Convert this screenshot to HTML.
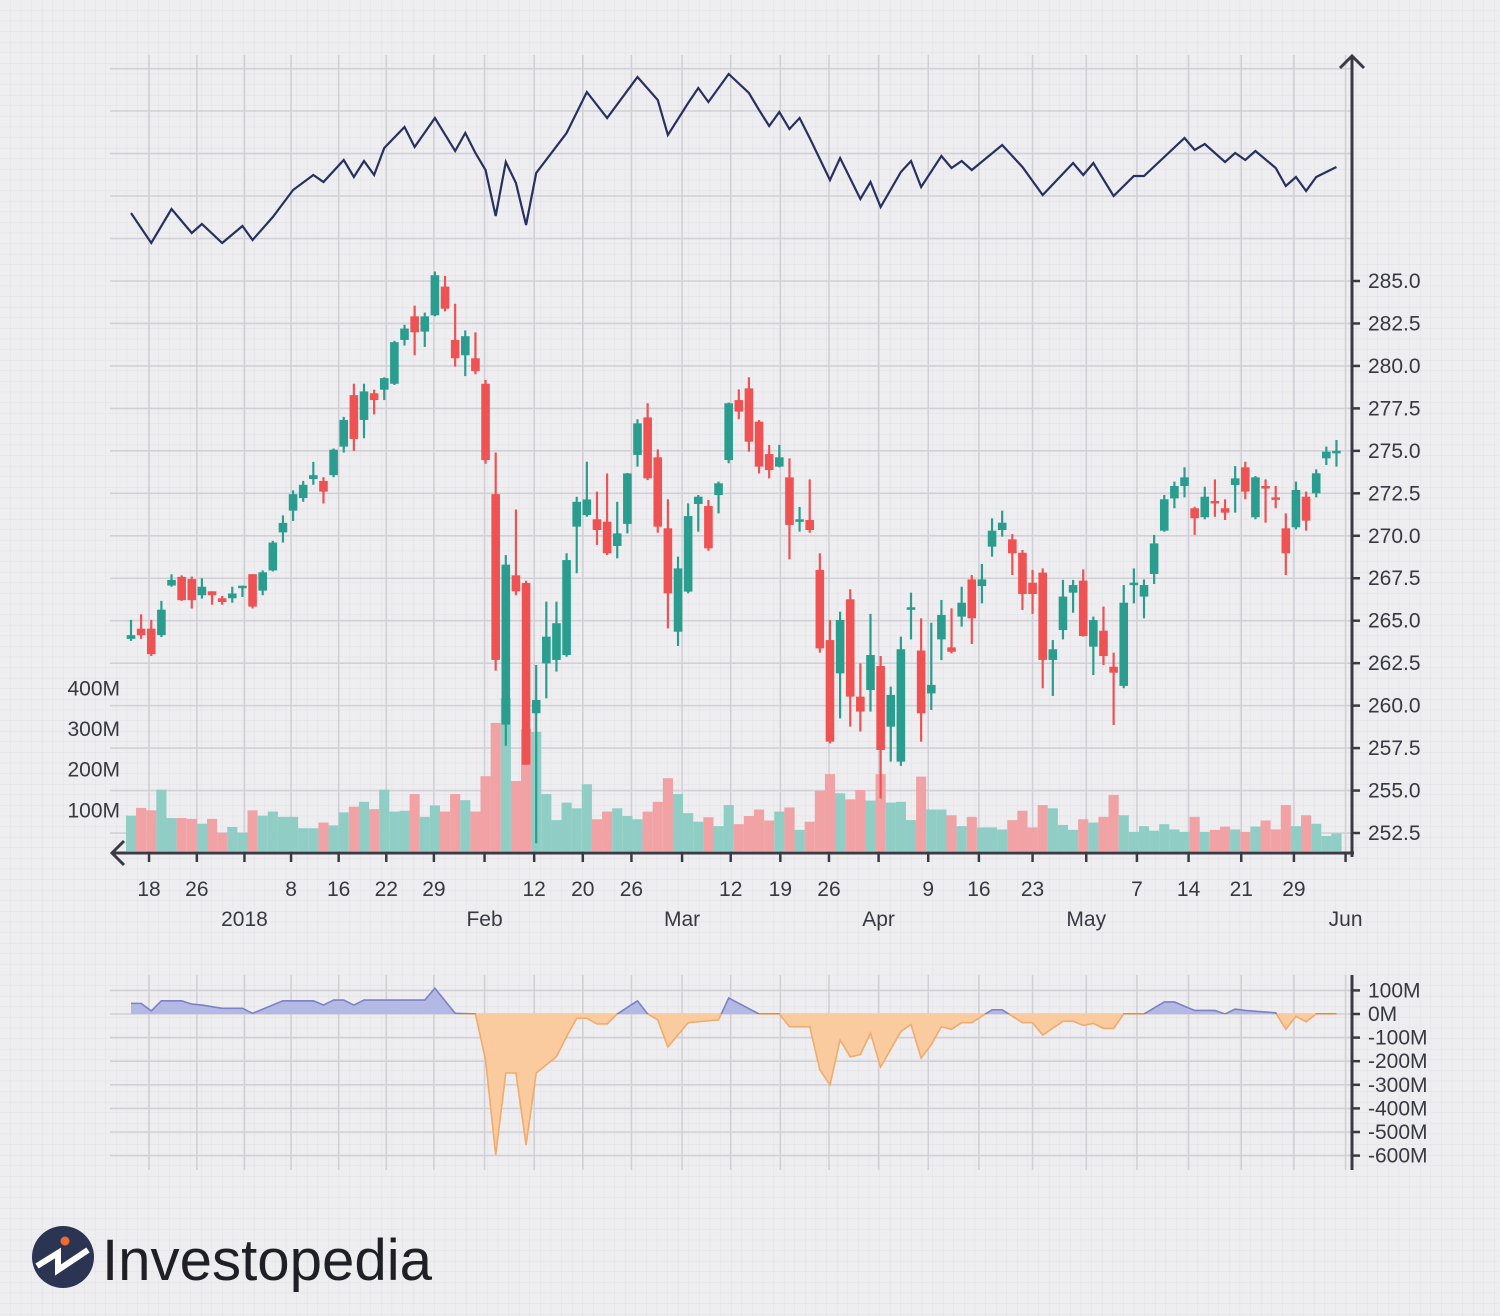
<!DOCTYPE html>
<html><head><meta charset="utf-8"><style>
html,body{margin:0;padding:0;background:#eeeef1;}
svg{display:block;font-family:"Liberation Sans",sans-serif;}
</style></head><body>
<svg id="chart" width="1500" height="1316" viewBox="0 0 1500 1316" xmlns="http://www.w3.org/2000/svg">
<defs>
<pattern id="minor" width="10.6" height="10.6" patternUnits="userSpaceOnUse">
<path d="M10.6 0V10.6M0 10.6H10.6" stroke="#e1e1e6" stroke-width="1" fill="none"/>
</pattern>
<clipPath id="clipPos"><rect x="100" y="900" width="1260" height="114"/></clipPath>
<clipPath id="clipNeg"><rect x="100" y="1014" width="1260" height="200"/></clipPath>
</defs>
<rect width="1500" height="1316" fill="#eeeef1"/>
<rect width="1500" height="1316" fill="url(#minor)"/>
<g id="grid"></g>
<g id="volume"></g>
<g id="candles"></g>
<g id="topline"></g>
<g id="flow"></g>
<g id="axes"></g>
<g>
<circle cx="63" cy="1257" r="31" fill="#2c3454"/>
<circle cx="65" cy="1241" r="4.5" fill="#f26a2e"/>
<path d="M37 1266 L58 1253 L58 1270 L88 1250" stroke="#fff" stroke-width="6" fill="none" stroke-linejoin="miter"/>
<text x="102" y="1280" font-size="58" fill="#1f1f26" textLength="330" lengthAdjust="spacingAndGlyphs">Investopedia</text>
</g>
</svg>
<script>
const opens=[263.93,264.53,264.53,264.15,267.07,267.58,267.45,266.5,266.73,266.32,266.32,266.98,267.74,266.77,267.96,270.2,271.48,272.22,273.34,273.23,273.57,275.25,278.28,276.82,278.39,278.6,278.95,281.53,282.92,282.02,282.98,284.67,281.53,280.63,280.45,278.95,272.45,258.88,267.67,267.22,259.55,262.49,262.69,262.98,270.54,271.22,270.97,270.83,269.4,270.7,274.76,276.97,274.62,270.44,264.35,266.71,271.87,271.75,272.4,274.46,277.99,278.68,276.72,274.81,274.07,273.44,270.85,270.93,267.99,263.86,261.9,266.26,260.53,260.92,262.33,258.76,256.7,265.67,263.24,260.72,263.9,263.43,265.24,267.43,267.04,269.36,270.34,269.79,269.0,267.24,267.83,262.69,264.45,266.65,267.36,263.47,264.41,262.29,261.16,267.1,266.42,267.75,270.3,272.2,272.93,271.62,271.09,272.05,271.62,272.99,274.03,271.09,272.93,272.26,270.44,270.5,272.3,272.5,274.56,274.95];
const closes=[264.15,264.15,263.03,265.65,267.4,266.21,266.21,267.0,266.5,266.1,266.6,267.06,265.83,267.85,269.6,270.76,272.45,273.0,273.57,272.6,275.07,276.82,275.7,278.5,277.99,279.28,281.4,282.2,281.98,282.92,285.34,283.37,280.45,281.75,279.69,274.46,262.69,268.3,266.73,256.52,260.33,264.06,264.85,268.57,272.0,272.14,270.34,268.97,270.14,273.67,276.62,273.38,270.54,266.61,268.08,271.16,272.3,269.26,273.09,277.8,277.31,275.54,274.07,273.87,274.62,270.64,270.97,270.34,263.37,257.88,265.04,260.53,259.65,262.98,257.39,260.63,263.32,265.79,259.55,261.22,265.34,263.17,266.06,265.14,267.43,270.3,270.77,268.97,266.57,266.57,262.69,263.32,266.42,267.1,264.1,265.04,262.92,261.94,266.06,267.24,267.1,269.55,272.15,272.93,273.44,271.03,272.3,271.95,271.36,273.38,272.6,273.44,272.85,272.15,268.97,272.7,270.89,273.68,274.95,275.0];
const highs=[265.05,265.38,265.05,266.17,267.73,267.67,267.6,267.5,266.73,266.46,267.0,267.06,267.74,267.96,269.7,271.2,272.67,273.23,274.35,273.45,275.14,277.0,278.95,278.95,278.6,279.33,281.48,282.42,283.55,283.14,285.56,285.3,283.66,282.09,281.98,279.17,274.9,268.86,271.55,267.35,262.39,266.12,266.12,268.97,272.3,274.36,272.6,273.67,272.0,273.7,276.86,277.8,275.09,272.15,268.77,271.91,272.4,272.11,273.19,277.84,278.62,279.33,276.82,275.35,275.35,274.56,271.7,273.32,268.97,265.04,265.53,266.85,262.49,265.4,262.92,261.12,264.06,266.65,265.14,264.88,266.22,265.73,267.0,267.69,268.34,271.03,271.48,270.1,269.16,267.99,268.08,263.86,267.4,267.4,268.02,265.24,265.83,263.12,267.1,268.08,267.43,270.05,272.4,273.19,274.03,271.71,272.89,273.32,272.15,274.1,274.36,273.52,273.32,272.93,271.32,273.19,272.6,273.91,275.25,275.64];
const lows=[263.81,263.93,262.92,264.04,267.0,266.17,265.72,266.3,265.94,265.94,266.06,266.4,265.72,266.5,267.9,269.6,270.87,272.0,273.0,271.9,273.45,274.9,275.0,275.74,277.15,277.99,278.88,281.2,280.63,281.12,282.92,283.21,279.96,279.4,279.51,274.24,262.06,257.64,266.5,256.52,251.89,260.43,262.0,262.88,267.79,271.12,269.46,268.87,268.67,270.14,274.07,273.28,270.18,264.55,263.51,266.61,270.24,269.12,271.32,274.27,276.86,274.95,273.67,273.38,274.03,268.61,270.24,270.18,263.12,257.78,259.25,258.76,258.47,259.65,254.54,256.7,256.45,263.9,257.88,259.74,262.68,263.07,264.65,263.63,266.02,268.77,269.95,267.69,265.63,265.4,261.02,260.57,263.9,265.47,264.06,261.8,262.39,258.86,261.02,266.02,265.14,267.16,270.24,271.62,272.26,270.05,270.97,271.12,270.93,271.36,272.15,270.97,270.77,271.62,267.69,270.38,270.3,272.26,274.17,274.07];
const volumes=[87,106,100,151,81,81,79,67,79,45,59,45,100,87,97,84,84,56,56,70,63,95,109,121,103,151,97,99,140,84,112,97,140,125,97,184,315,376,172,300,293,140,76,119,105,164,78,97,105,86,78,97,121,179,140,93,72,83,61,113,66,86,102,75,97,107,52,72,148,189,142,127,150,124,189,119,121,76,183,102,102,88,61,84,58,58,53,76,99,58,113,105,64,52,78,70,84,138,88,47,61,50,66,53,47,84,47,52,60,53,47,60,75,53,113,61,88,67,37,43];
const lineIdx=[0,2,4,6,7,9,11,12,14,16,18,19,21,22,23,24,25,27,28,30,32,33,34,35,36,37,38,39,40,43,45,47,50,52,53,55,56,57,59,61,62,63,64,65,66,67,69,70,72,73,74,76,77,78,80,81,82,83,86,88,89,90,93,94,95,97,99,100,104,105,106,108,109,110,111,113,114,115,116,117,119];
const lineVals=[37,7,41,17,26,7,24,10,33,60,75,68,90,73,89,75,102,123,103,132,99,117,97,80,34,88,67,25,77,117,158,132,173,150,115,147,162,148,176,157,140,124,138,121,132,112,70,92,51,68,43,78,89,63,94,82,89,80,105,83,69,55,87,75,87,54,74,74,112,100,106,88,97,90,99,82,64,73,59,73,83];
const flowIdx=[0,1,2,3,5,6,7,9,11,12,15,18,19,20,21,22,23,29,30,32,34,35,36,37,38,39,40,42,43,44,45,46,47,48,50,51,52,53,55,58,59,62,64,65,67,68,69,70,71,72,73,74,76,77,78,79,80,81,82,83,85,86,88,89,90,92,93,94,95,96,97,98,100,102,103,105,107,108,109,110,113,114,115,116,117,119];
const flowVals=[45,45,13,56,56,42,38,24,24,3,56,56,38,59,59,38,59,59,109,3,0,-195,-597,-250,-250,-555,-250,-181,-96,-18,-18,-42,-42,0,56,0,-25,-140,-37,-25,68,0,0,-54,-54,-237,-300,-110,-182,-172,-81,-225,-74,-45,-187,-130,-54,-65,-37,-37,18,18,-37,-37,-89,-31,-31,-48,-40,-61,-61,0,0,51,51,15,15,0,21,15,5,-65,-10,-33,0,0];
const priceTicks=[285.0,282.5,280.0,277.5,275.0,272.5,270.0,267.5,265.0,262.5,260.0,257.5,255.0,252.5];
const volTicks=[100,200,300,400];
const flowTicks=[100,0,-100,-200,-300,-400,-500,-600];
const dateTickIdx=[1.78,6.5,11.2,15.8,20.5,25.2,29.9,34.9,39.8,44.6,49.4,54.4,59.2,64.1,68.9,73.8,78.7,83.7,89.0,94.3,99.3,104.4,109.6,114.8,119.9];
const dateTickLabels=["18","26","2018","8","16","22","29","Feb","12","20","26","Mar","12","19","26","Apr","9","16","23","May","7","14","21","29","Jun"];
const dateTickRow=[1,1,2,1,1,1,1,2,1,1,1,2,1,1,1,2,1,1,1,2,1,1,1,1,2];

const NS="http://www.w3.org/2000/svg";
function el(tag,attrs,parent){const e=document.createElementNS(NS,tag);for(const k in attrs)e.setAttribute(k,attrs[k]);parent.appendChild(e);return e;}
const xOf=i=>131+i*10.13;
const yPrice=p=>281+(285-p)*16.985;
const yVol=v=>851-v*0.4067;
const yLine=v=>250-v;
const yFlow=v=>1014-v*0.236;
const GREEN="#2a9d8f",RED="#ee5253",GV="#8fcdc5",RV="#f0a2a5",TXT="#383842",GRID="#d0d0d6";

const grid=document.getElementById('grid');
[68.7,111,153.6,196,238.5].concat(priceTicks.map(yPrice)).forEach(y=>{
  const l=el('line',{x1:110,x2:1352,y1:y,y2:y,stroke:GRID,'stroke-width':1.6},grid);
  
  
});
flowTicks.forEach(v=>{
  const l=el('line',{x1:110,x2:1352,y1:yFlow(v),y2:yFlow(v),stroke:GRID,'stroke-width':1.6},grid);
  
  
});
dateTickIdx.forEach(t=>{
  const x=xOf(t);
  const l=el('line',{x1:x,x2:x,y1:55,y2:853,stroke:GRID,'stroke-width':1.6},grid);
  
  
  const l2=el('line',{x1:x,x2:x,y1:975,y2:1170,stroke:GRID,'stroke-width':1.6},grid);
  
  
});

const vg=document.getElementById('volume');
volumes.forEach((v,i)=>{
  const up=closes[i]>=opens[i];
  const r=el('rect',{x:xOf(i)-5.06,y:yVol(v),width:10.13,height:851-yVol(v),fill:up?GV:RV},vg);
  
  
});

const cg=document.getElementById('candles');
opens.forEach((o,i)=>{
  const c=closes[i],up=c>=o,col=up?GREEN:RED,x=xOf(i);
  const g=el('g',{},cg);
  
  
  el('line',{x1:x,x2:x,y1:yPrice(highs[i]),y2:yPrice(lows[i]),stroke:col,'stroke-width':2.2},g);
  const top=yPrice(Math.max(o,c)),bot=yPrice(Math.min(o,c));
  el('rect',{x:x-4.3,y:top,width:8.6,height:Math.max(bot-top,2.5),fill:col},g);
});

const tl=document.getElementById('topline');
const lp=el('polyline',{points:lineIdx.map((d,k)=>xOf(d)+','+yLine(lineVals[k])).join(' '),fill:'none',stroke:'#283060','stroke-width':2.2,'stroke-linejoin':'miter'},tl);



const fg=document.getElementById('flow');
const pts=flowIdx.map((d,k)=>xOf(d)+','+yFlow(flowVals[k]));
const poly='M'+xOf(flowIdx[0])+','+yFlow(0)+' L'+pts.join(' L')+' L'+xOf(flowIdx[flowIdx.length-1])+','+yFlow(0)+' Z';
const posA=el('path',{d:poly,fill:'#b4b8e4','clip-path':'url(#clipPos)'},fg);


const negA=el('path',{d:poly,fill:'#f9cb9f','clip-path':'url(#clipNeg)'},fg);


const posL=el('polyline',{points:pts.join(' '),fill:'none',stroke:'#7c82c4','stroke-width':1.6,'clip-path':'url(#clipPos)'},fg);


const negL=el('polyline',{points:pts.join(' '),fill:'none',stroke:'#f1ab6c','stroke-width':1.6,'clip-path':'url(#clipNeg)'},fg);



const ax=document.getElementById('axes');
const ya=el('path',{d:'M1352 857 V56 M1340 68 L1352 56 L1364 68',stroke:'#3a3a44','stroke-width':3,fill:'none'},ax);


const xa=el('path',{d:'M1354 853 H112 M124 841 L112 853 L124 865',stroke:'#3a3a44','stroke-width':3,fill:'none'},ax);


priceTicks.forEach(p=>{
  const y=yPrice(p);
  el('line',{x1:1352,x2:1360,y1:y,y2:y,stroke:'#3a3a44','stroke-width':2.5},ax);
  const t=el('text',{x:1368,y:y+7,'font-size':21,fill:TXT},ax);
  t.textContent=p.toFixed(1);
  
  
});
volTicks.forEach(v=>{
  const t=el('text',{x:120,y:yVol(v)+7,'font-size':21,fill:TXT,'text-anchor':'end'},ax);
  t.textContent=v+'M';
  
  
});
dateTickIdx.forEach((d,k)=>{
  const x=xOf(d);
  el('line',{x1:x,x2:x,y1:853,y2:862,stroke:'#3a3a44','stroke-width':2.5},ax);
  const t=el('text',{x:x,y:dateTickRow[k]===1?896:926,'font-size':21,fill:TXT,'text-anchor':'middle'},ax);
  t.textContent=dateTickLabels[k];
  
  
});
const fa=el('line',{x1:1352,x2:1352,y1:975,y2:1170,stroke:'#3a3a44','stroke-width':3},ax);


flowTicks.forEach(v=>{
  const y=yFlow(v);
  el('line',{x1:1352,x2:1360,y1:y,y2:y,stroke:'#3a3a44','stroke-width':2.5},ax);
  const t=el('text',{x:1368,y:y+7,'font-size':21,fill:TXT},ax);
  t.textContent=v+'M';
  
  
});
</script>
</body></html>
